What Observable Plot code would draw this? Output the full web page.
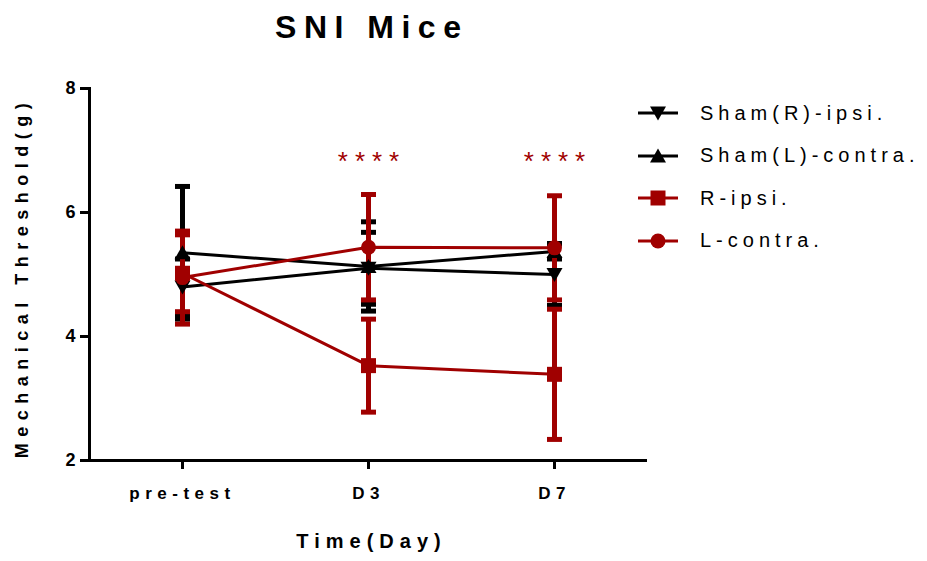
<!DOCTYPE html>
<html>
<head>
<meta charset="utf-8">
<script src="https://cdn.jsdelivr.net/npm/d3@7"></script>
<script src="https://cdn.jsdelivr.net/npm/@observablehq/plot@0.6"></script>
<style>
  body { margin: 0; background: #fff; font-family: "Liberation Sans", Arial, sans-serif; }
  #wrap { position: relative; width: 927px; height: 561px; overflow: hidden; }
  #title { box-sizing: border-box; width: 736px; height: 60px; padding-top: 11px; padding-left: 7.5px;
           text-align: center; font-weight: bold; font-size: 32px; line-height: 32px; letter-spacing: 7.5px; }
  #legend { position: absolute; left: 636px; top: 92px; }
  .row { display: flex; align-items: center; height: 42.5px; font-size: 20px; letter-spacing: 5px; }
  .row svg { margin-right: 20px; }
  g[aria-label="x-axis tick label"] text { letter-spacing: 5.5px; }
</style>
</head>
<body>
<div id="wrap">
  <div id="title">SNI Mice</div>
  <div id="chart"></div>
  <div id="legend"></div>
</div>
<script>
// ---- data ----
const categories = ["pre-test", "D3", "D7"];
const seriesNames = ["Sham(R)-ipsi.", "Sham(L)-contra.", "R-ipsi.", "L-contra."];
const shamRMean = [4.80, 5.10, 5.00];
const shamRErr  = [0.45, 0.58, 0.50];
const shamLMean = [5.35, 5.13, 5.37];
const shamLErr  = [1.07, 0.72, 0.12];
const rIpsiMean = [5.02, 3.53, 3.39];
const rIpsiErr  = [0.62, 0.75, 1.05];
const lContraMean = [4.95, 5.44, 5.43];
const lContraErr  = [0.75, 0.85, 0.84];
const sigLabels = ["", "****", "****"];
const sigLevel  = [null, 6.82, 6.82];
const yTicks = [2, 4, 6, 8];
const yDomain = [2, 8];
const yTitle = "Mechanical Threshold(g)";
const xTitle = "Time(Day)";

// ---- styles ----
const RED = "#a00000", BLACK = "#000000";
const seriesColors = [BLACK, BLACK, RED, RED];
const downTri = {draw(c) { c.moveTo(0, 7.5); c.lineTo(8, -6.5); c.lineTo(-8, -6.5); c.closePath(); }};
const upTri   = {draw(c) { c.moveTo(0, -7.5); c.lineTo(8, 6.5); c.lineTo(-8, 6.5); c.closePath(); }};
const square  = {draw(c) { c.rect(-7.5, -7.5, 15, 15); }};
const circle  = {draw(c) { c.moveTo(7.5, 0); c.arc(0, 0, 7.5, 0, 2 * Math.PI); }};
const cap     = {draw(c) { c.rect(-7.5, -2.5, 15, 5); }};
const seriesSymbols = [downTri, upTri, square, circle];

const means = [shamRMean, shamLMean, rIpsiMean, lContraMean];
const errs  = [shamRErr, shamLErr, rIpsiErr, lContraErr];
const series = seriesNames.map((name, i) => ({
  name, color: seriesColors[i], symbol: seriesSymbols[i],
  rows: categories.map((cat, j) => ({cat, mean: means[i][j], err: errs[i][j]}))
}));
const stars = categories.map((cat, j) => ({cat, label: sigLabels[j], y: sigLevel[j]})).filter(d => d.label);

const errMarks = series.flatMap(s => [
  Plot.ruleX(s.rows, {x: "cat", y1: d => d.mean - d.err, y2: d => d.mean + d.err, stroke: s.color, strokeWidth: 5}),
  Plot.dot(s.rows, {x: "cat", y: d => d.mean + d.err, symbol: cap, fill: s.color, stroke: "none", r: 5}),
  Plot.dot(s.rows, {x: "cat", y: d => d.mean - d.err, symbol: cap, fill: s.color, stroke: "none", r: 5})
]);
const lineMarks = series.map(s => Plot.line(s.rows, {x: "cat", y: "mean", stroke: s.color, strokeWidth: 3}));
const dotMarks = series.map(s => Plot.dot(s.rows, {x: "cat", y: "mean", symbol: s.symbol, fill: s.color, stroke: "none", r: 5}));

const chart = Plot.plot({
  width: 927, height: 501,
  marginLeft: 89, marginRight: 280, marginTop: 28, marginBottom: 101,
  x: {type: "point", domain: categories, padding: 0.5},
  y: {domain: yDomain},
  style: {fontFamily: "'Liberation Sans', Arial, sans-serif", fontSize: "17px", fontWeight: "bold", color: "#000", background: "#fff", overflow: "visible"},
  marks: [
    Plot.axisY({ticks: yTicks, tickFormat: d3.format("d"), tickSize: 9, tickPadding: 5, strokeWidth: 3, label: null, fontSize: 18}),
    Plot.axisX({tickSize: 9, tickPadding: 17, strokeWidth: 3, label: null}),
    Plot.ruleY([yDomain[0]], {strokeWidth: 3}),
    Plot.frame({anchor: "left", strokeWidth: 3}),
    ...errMarks,
    ...lineMarks,
    ...dotMarks,
    Plot.text(stars, {x: "cat", y: "y", text: "label", fill: RED, fontSize: 26, fontWeight: "normal", dx: 3.5}),
    Plot.text([yTitle], {frameAnchor: "left", textAnchor: "middle", rotate: -90, dx: -67, dy: 3, fontSize: 18}),
    Plot.text([xTitle], {frameAnchor: "bottom", textAnchor: "middle", dy: 87, dx: 3, fontSize: 20})
  ]
});
document.getElementById("chart").appendChild(chart);

// letter spacing on titles and star annotations
const spacing = new Map([[yTitle, "6.5px"], [xTitle, "6px"], ...sigLabels.filter(Boolean).map(l => [l, "7px"])]);
d3.select(chart).selectAll("text").each(function() {
  const ls = spacing.get(this.textContent);
  if (ls) this.style.letterSpacing = ls;
});

// ---- legend ----
const legend = d3.select("#legend");
series.forEach(s => {
  const row = legend.append("div").attr("class", "row");
  const svg = row.append("svg").attr("width", 44).attr("height", 22);
  svg.append("line").attr("x1", 2).attr("x2", 42).attr("y1", 11).attr("y2", 11)
     .attr("stroke", s.color).attr("stroke-width", 3);
  const p = d3.path(); s.symbol.draw(p);
  svg.append("path").attr("d", p.toString()).attr("transform", "translate(22,11)").attr("fill", s.color);
  row.append("span").text(s.name);
});
</script>
</body>
</html>
